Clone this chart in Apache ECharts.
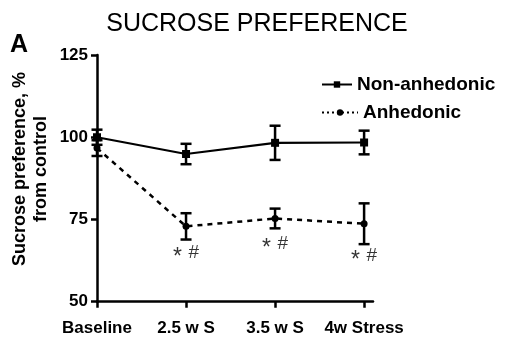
<!DOCTYPE html>
<html>
<head>
<meta charset="utf-8">
<script src="https://cdn.jsdelivr.net/npm/echarts@6/dist/echarts.min.js"></script>
<style>
html,body{margin:0;padding:0;background:#fff;}
#chart{width:509px;height:337px;}
</style>
</head>
<body>
<div id="chart"></div>
<script>
// ---- data ----
const categories = ['Baseline', '2.5 w S', '3.5 w S', '4w Stress'];
const nonAnhMean = [100.0, 94.9, 98.3, 98.4];
const nonAnhErr  = [2.3, 3.1, 5.2, 3.6];
const anhMean    = [96.7, 72.9, 75.3, 73.7];
const anhErr     = [2.4, 4.0, 3.0, 6.2];
const sigText    = ['', '* #', '* #', '* #'];
const sigY       = [null, 64.8, 67.5, 63.9];
const yTicks     = [50, 75, 100, 125];

const FONT = '"Liberation Sans", Arial, Helvetica, sans-serif';

const chart = echarts.init(document.getElementById('chart'), null, {renderer: 'canvas'});

function pts(means) { return means.map((v, i) => [i, v]); }
function errData(means, errs) { return means.map((v, i) => [i, v - errs[i], v + errs[i]]); }

function errRender(params, api) {
  const x = api.value(0);
  const lo = api.coord([x, api.value(1)]);
  const hi = api.coord([x, api.value(2)]);
  const hw = 5.5;
  const style = {stroke: '#000', lineWidth: 2.5};
  return {
    type: 'group',
    children: [
      {type: 'line', shape: {x1: lo[0], y1: lo[1], x2: hi[0], y2: hi[1]}, style: style},
      {type: 'line', shape: {x1: lo[0] - hw, y1: lo[1], x2: lo[0] + hw, y2: lo[1]}, style: style},
      {type: 'line', shape: {x1: hi[0] - hw, y1: hi[1], x2: hi[0] + hw, y2: hi[1]}, style: style}
    ]
  };
}

const sigLabelStyle = {
  show: true, position: 'inside', color: '#000',
  rich: {
    s: {fontFamily: FONT, fontSize: 23, padding: [10, 0, 0, 0], color: '#000'},
    h: {fontFamily: FONT, fontSize: 19, color: '#000'}
  }
};
const sigData = [];
sigText.forEach((t, i) => {
  if (t) {
    const parts = t.split(' ');
    sigData.push({
      value: [i, sigY[i]],
      label: Object.assign({}, sigLabelStyle, {formatter: '{s|' + parts[0] + '}  {h|' + parts[1] + '}'})
    });
  }
});

const option = {
  animation: false,
  backgroundColor: '#fff',
  title: {
    text: 'SUCROSE PREFERENCE',
    left: 252, top: 7, textAlign: 'center',
    textStyle: {fontFamily: FONT, fontSize: 25, fontWeight: 'normal', color: '#000'}
  },
  graphic: [
    {type: 'text', left: 10, top: 33, style: {text: 'A', font: 'bold 25px ' + FONT, fill: '#000'}},
    {type: 'text', x: 20, y: 169, rotation: Math.PI / 2,
     style: {text: 'Sucrose preference, %', font: 'bold 18px ' + FONT, fill: '#000', align: 'center', verticalAlign: 'middle'}},
    {type: 'text', x: 41, y: 169, rotation: Math.PI / 2,
     style: {text: 'from control', font: 'bold 18px ' + FONT, fill: '#000', align: 'center', verticalAlign: 'middle'}}
  ],
  legend: [
    {
      data: [{name: 'Non-anhedonic'}],
      left: 316, top: 70, itemWidth: 30, itemHeight: 8, itemGap: 3,
      textStyle: {fontFamily: FONT, fontSize: 19, fontWeight: 'bold', color: '#000'}
    },
    {
      data: [{name: 'Anhedonic'}],
      left: 316, top: 98, itemWidth: 36, itemHeight: 8, itemGap: 5,
      textStyle: {fontFamily: FONT, fontSize: 19, fontWeight: 'bold', color: '#000'},
      lineStyle: {type: [2, 3], width: 2}
    }
  ],
  grid: {left: 97, top: 55, right: 136, bottom: 35.3, containLabel: false},
  xAxis: {
    type: 'value', min: 0, max: 3.1, interval: 1,
    axisLine: {show: true, lineStyle: {color: '#000', width: 2.5}},
    axisTick: {show: true, length: 6, lineStyle: {color: '#000', width: 2.5}},
    splitLine: {show: false},
    axisLabel: {
      margin: 18,
      fontFamily: FONT, fontSize: 17, fontWeight: 'bold', color: '#000',
      formatter: v => (Number.isInteger(v) && categories[v] !== undefined) ? categories[v] : '',
      showMaxLabel: false
    }
  },
  yAxis: {
    type: 'value', min: yTicks[0], max: yTicks[yTicks.length - 1], interval: 25,
    axisLine: {show: true, lineStyle: {color: '#000', width: 2.5}},
    axisTick: {show: true, length: 6, lineStyle: {color: '#000', width: 2.5}},
    splitLine: {show: false},
    axisLabel: {margin: 9, fontFamily: FONT, fontSize: 17, fontWeight: 'bold', color: '#000'}
  },
  series: [
    {
      name: 'Non-anhedonic', type: 'line', data: pts(nonAnhMean),
      symbol: 'rect', symbolSize: 8, showSymbol: true,
      lineStyle: {color: '#000', width: 2.2, type: 'solid'},
      itemStyle: {color: '#000'}, z: 3
    },
    {
      name: 'Anhedonic', type: 'line', data: pts(anhMean),
      symbol: 'circle', symbolSize: 7, showSymbol: true,
      lineStyle: {color: '#000', width: 2.5, type: [5, 5]},
      itemStyle: {color: '#000'}, z: 3
    },
    {type: 'custom', renderItem: errRender, data: errData(nonAnhMean, nonAnhErr), z: 2, silent: true},
    {type: 'custom', renderItem: errRender, data: errData(anhMean, anhErr), z: 2, silent: true},
    {
      type: 'scatter', data: sigData, symbolSize: 0, silent: true,
      label: sigLabelStyle
    }
  ]
};
chart.setOption(option);
</script>
</body>
</html>
